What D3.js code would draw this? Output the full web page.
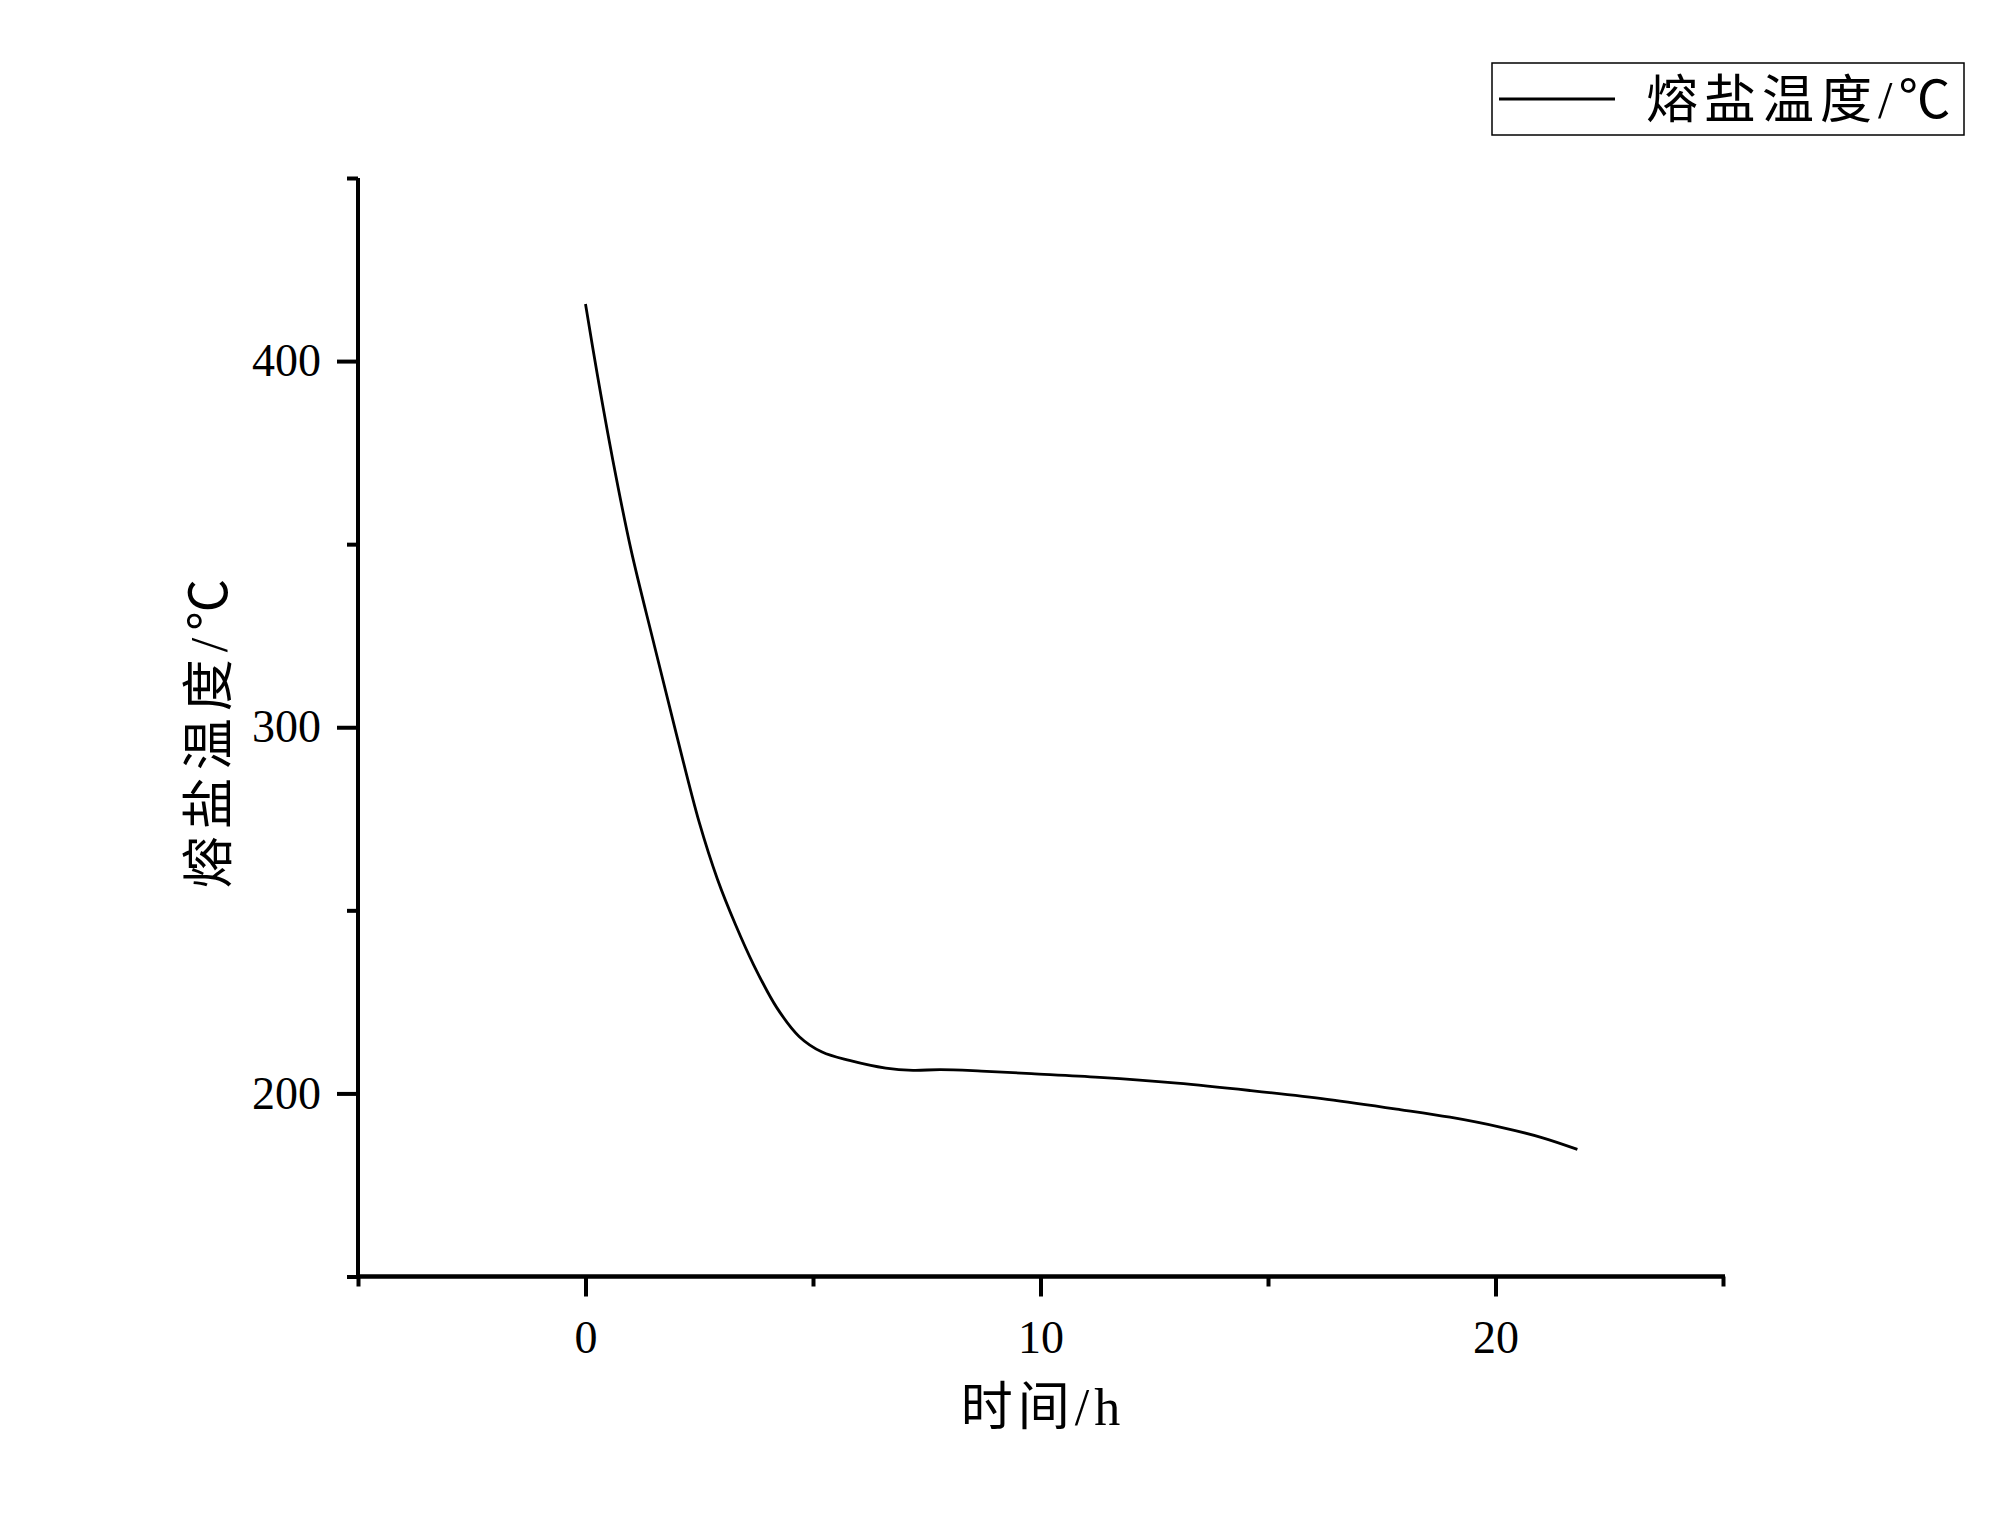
<!DOCTYPE html>
<html>
<head>
<meta charset="utf-8">
<script src="https://cdn.jsdelivr.net/npm/d3@7"></script>
<style>
html,body{margin:0;padding:0;background:#fff;}
svg{display:block;}
text{font-family:"Liberation Serif","Noto Sans CJK SC",serif;fill:#000;}
</style>
</head>
<body>
<svg id="chart" width="2000" height="1531"></svg>
<script>
// Data
const timeH = [0, 0.25, 0.6, 1.0, 1.5, 2.0, 2.5, 2.9, 3.3, 3.7, 4.2, 4.7, 5.2, 5.8, 6.6, 7.2, 7.8, 8.7, 9.8, 11.3, 13.0, 14.6, 16.3, 17.9, 19.0, 20.1, 21.0, 21.8];
const saltTemp = [415.6, 397.0, 373.0, 348.5, 323.0, 298.0, 274.0, 258.5, 246.0, 235.0, 223.5, 215.5, 211.3, 209.0, 206.9, 206.3, 206.5, 206.1, 205.4, 204.4, 202.8, 200.8, 198.4, 195.6, 193.5, 190.8, 188.0, 184.7];
const xMajorTicks = [0, 10, 20];
const xMinorTicks = [-5, 5, 15, 25];
const yMajorTicks = [200, 300, 400];
const yMinorTicks = [150, 250, 350, 450];
const xTitle = "时间/h";
const yTitle = "熔盐温度/℃";
const legendLabel = "熔盐温度/℃";

const svg = d3.select("#chart");
const x = d3.scaleLinear().domain([-5, 25]).range([358, 1723]);
const y = d3.scaleLinear().domain([150, 450]).range([1276.5, 178]);

const data = timeH.map((t, i) => ({t, v: saltTemp[i]}));

// line
svg.append("path")
  .datum(data)
  .attr("fill", "none")
  .attr("stroke", "#000")
  .attr("stroke-width", 2.8)
  .attr("stroke-linejoin", "round")
  .attr("d", d3.line().x(d => x(d.t)).y(d => y(d.v)).curve(d3.curveCatmullRom.alpha(0.5)));

// X axis
const xAxisG = svg.append("g").attr("transform", `translate(0,${y(150)})`);
xAxisG.call(d3.axisBottom(x).tickValues(xMajorTicks).tickSize(20).tickPadding(24).tickFormat(d3.format("d")));
xAxisG.append("g").call(d3.axisBottom(x).tickValues(xMinorTicks).tickSize(10).tickFormat(""));
xAxisG.selectAll("path.domain").attr("stroke-width", 4).attr("d", `M${x(-5)-2},0H${x(25)+2}`);
xAxisG.selectAll(".tick line").attr("stroke-width", 4);
xAxisG.selectAll("text").attr("font-size", 46).attr("font-family", "Liberation Serif");

// Y axis
const yAxisG = svg.append("g").attr("transform", `translate(${x(-5)},0)`);
yAxisG.call(d3.axisLeft(y).tickValues(yMajorTicks).tickSize(21).tickPadding(16).tickFormat(d3.format("d")));
yAxisG.append("g").call(d3.axisLeft(y).tickValues(yMinorTicks).tickSize(11).tickFormat(""));
yAxisG.selectAll("path.domain").attr("stroke-width", 4).attr("d", `M0,${y(450)}V${y(150)+2}`);
yAxisG.selectAll(".tick line").attr("stroke-width", 4);
yAxisG.selectAll("text").attr("font-size", 46).attr("font-family", "Liberation Serif");

// Axis titles
svg.append("text")
  .attr("x", 1043).attr("y", 1407)
  .attr("text-anchor", "middle").attr("dominant-baseline", "central")
  .attr("font-size", 52).attr("letter-spacing", 5)
  .text(xTitle);

svg.append("text")
  .attr("transform", "translate(209,730) rotate(-90)")
  .attr("text-anchor", "middle").attr("dominant-baseline", "central")
  .attr("font-size", 52).attr("letter-spacing", 7)
  .text(yTitle);

// Legend
const lg = svg.append("g");
lg.append("rect").attr("x", 1492).attr("y", 63).attr("width", 472).attr("height", 72)
  .attr("fill", "#fff").attr("stroke", "#000").attr("stroke-width", 1.5);
lg.append("line").attr("x1", 1499).attr("x2", 1615).attr("y1", 99).attr("y2", 99)
  .attr("stroke", "#000").attr("stroke-width", 3);
lg.append("text").attr("x", 1646).attr("y", 100).attr("dominant-baseline", "central")
  .attr("font-size", 52).attr("letter-spacing", 6)
  .text(legendLabel);
</script>
</body>
</html>
